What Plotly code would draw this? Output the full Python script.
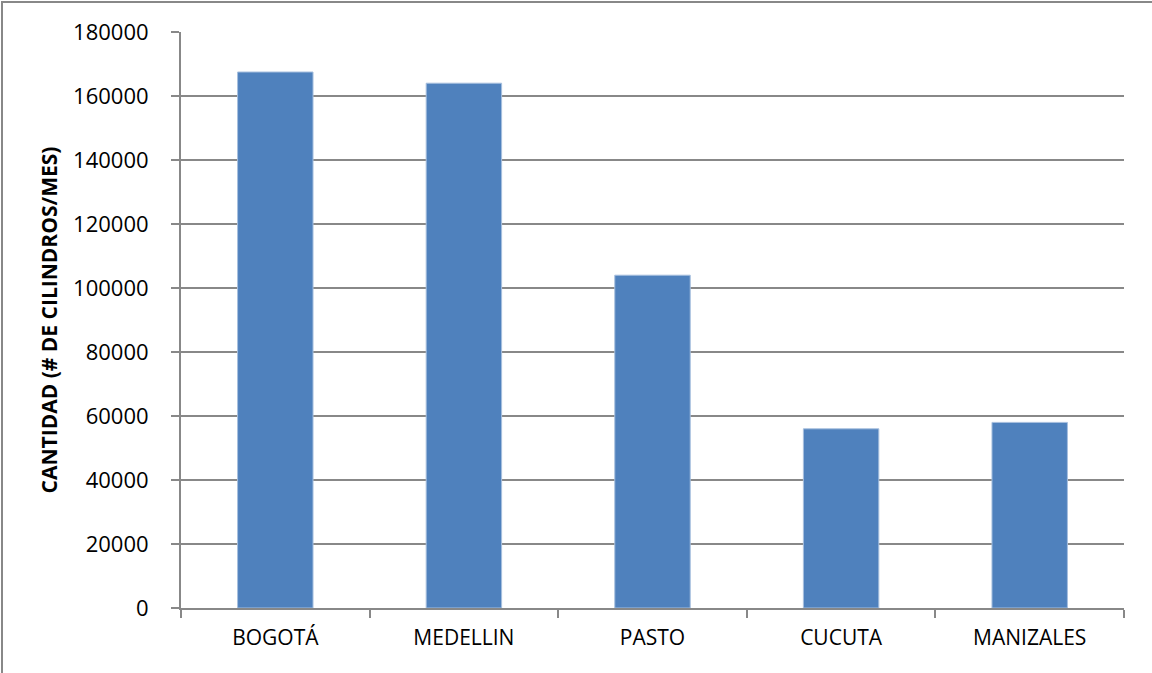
import plotly.graph_objects as go

categories = ["BOGOTÁ", "MEDELLIN", "PASTO", "CUCUTA", "MANIZALES"]
values = [167500, 164000, 104000, 56000, 58000]
y_ticks = [0, 20000, 40000, 60000, 80000, 100000, 120000, 140000, 160000, 180000]
y_title = "CANTIDAD (# DE CILINDROS/MES)"

W, H = 1152, 673
L, R, T, B = 181, 28, 32, 65
pw, ph = W - L - R, H - T - B

font_family = "Open Sans, Lato, Liberation Sans, sans-serif"
grid_col = "#888888"

fig = go.Figure(
    go.Bar(
        x=categories,
        y=values,
        marker=dict(color="#4F81BD", line=dict(color="#A7BFDE", width=1)),
        width=0.4,
    )
)

fig.update_layout(
    width=W,
    height=H,
    margin=dict(l=L, r=R, t=T, b=B, pad=0),
    paper_bgcolor="white",
    plot_bgcolor="white",
    showlegend=False,
    font=dict(family=font_family, size=21, color="#000000"),
    bargap=0.6,
)

fig.update_xaxes(
    showline=True,
    linecolor=grid_col,
    linewidth=2,
    ticks="outside",
    tickson="boundaries",
    ticklen=8,
    tickwidth=2,
    tickcolor=grid_col,
    showgrid=False,
    ticklabelstandoff=10,
    tickfont=dict(size=21),
)

fig.update_yaxes(
    range=[0, 180000],
    tickvals=y_ticks,
    ticktext=[str(v) for v in y_ticks],
    showline=True,
    linecolor=grid_col,
    linewidth=2,
    ticks="outside",
    ticklen=8,
    tickwidth=2,
    tickcolor=grid_col,
    showgrid=True,
    gridcolor=grid_col,
    gridwidth=2,
    zeroline=False,
    ticklabelstandoff=18,
    tickfont=dict(size=22),
    title=dict(text=y_title, font=dict(size=21, family=font_family, color="#000000", weight="bold"), standoff=10),
)

# outer chart border (top and left edges visible)
fig.add_shape(
    type="rect",
    xref="paper",
    yref="paper",
    x0=(2 - L) / pw,
    x1=(W + 5 - L) / pw,
    y0=(H - B - (H + 5)) / ph,
    y1=(H - B - 2) / ph,
    line=dict(color="#888888", width=2),
    fillcolor="rgba(0,0,0,0)",
    layer="below",
)

fig.write_html("out.html")
